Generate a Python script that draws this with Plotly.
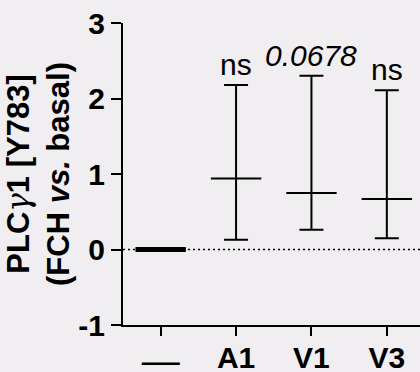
import plotly.graph_objects as go

# Group labels, mean fold change and error-bar limits (FCH vs. basal)
categories = ["—", "A1", "V1", "V3"]
means = [0.0, 0.94, 0.75, 0.67]
upper = [0.0, 2.18, 2.30, 2.11]
lower = [0.0, 0.13, 0.26, 0.15]
p_labels = ["", "ns", "<i>0.0678</i>", "ns"]
y_ticks = [-1, 0, 1, 2, 3]
y_ticktext = ["-1", "0", "1", "2", "3"]

FONT = "Liberation Sans, Arial, sans-serif"
BG = "#F0EEF0"

fig = go.Figure()

# control group: thick mean line only
fig.add_trace(go.Scatter(
    x=categories[:1], y=means[:1], mode="markers",
    marker=dict(symbol="line-ew", size=36, line=dict(color="black", width=5)),
    showlegend=False, hoverinfo="skip",
))

# treated groups: mean line with asymmetric error bars
err_plus = [u - m for u, m in zip(upper[1:], means[1:])]
err_minus = [m - l for m, l in zip(means[1:], lower[1:])]
fig.add_trace(go.Scatter(
    x=categories[1:], y=means[1:], mode="markers",
    marker=dict(symbol="line-ew", size=36, line=dict(color="black", width=2)),
    error_y=dict(type="data", symmetric=False, array=err_plus, arrayminus=err_minus,
                 color="black", thickness=2, width=12),
    showlegend=False, hoverinfo="skip",
))

# dotted reference line at zero
fig.add_shape(type="line", xref="paper", yref="y", x0=0, x1=1, y0=0, y1=0,
              line=dict(color="black", width=1.5, dash="2px,3px"), layer="below")

# significance labels above the upper caps
for cat, top, lab in zip(categories[1:], upper[1:], p_labels[1:]):
    fig.add_annotation(x=cat, y=top, text=lab, showarrow=False,
                       yanchor="bottom", yshift=2,
                       font=dict(family=FONT, size=30, color="black"))

fig.update_layout(
    width=420, height=372,
    margin=dict(l=123, r=0, t=23, b=47),
    paper_bgcolor=BG, plot_bgcolor=BG,
    font=dict(family=FONT, color="black"),
)

x_ticktext = ["<span style='font-size:38px;font-weight:normal;baseline-shift:-6px'>%s</span>" % c
              if c == "—" else c for c in categories]

fig.update_xaxes(
    type="category", range=[-0.5, 3.44], automargin=False,
    tickvals=categories, ticktext=x_ticktext,
    showline=True, linecolor="black", linewidth=2,
    ticks="outside", ticklen=9, tickwidth=2, tickcolor="black",
    ticklabelstandoff=-4,
    tickfont=dict(family=FONT, size=30, color="black", weight="bold"),
    showgrid=False, zeroline=False,
)
fig.update_yaxes(
    range=[-1, 3], tickvals=y_ticks, ticktext=y_ticktext, automargin=False,
    showline=True, linecolor="black", linewidth=2,
    ticks="outside", ticklen=10, tickwidth=2, tickcolor="black",
    tickfont=dict(family=FONT, size=30, color="black", weight="bold"),
    showgrid=False, zeroline=False,
    title=dict(text="PLC<span style='font-family:DejaVu Serif;font-weight:normal;font-style:italic'>γ</span>1 [Y783]"
                    "<br>(FCH <i>vs.</i> basal)",
               font=dict(family=FONT, size=31, color="black", weight="bold"),
               standoff=0),
)

fig.write_html("out.html")
